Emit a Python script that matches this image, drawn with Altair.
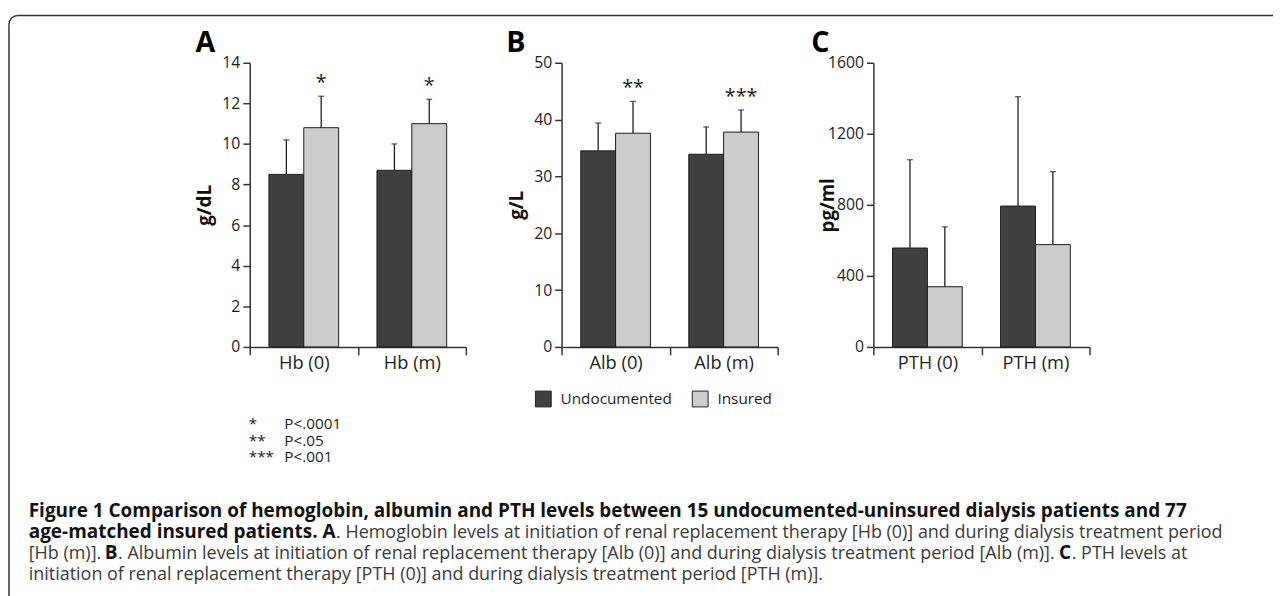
import math
import altair as alt
import pandas as pd

FONT = "Open Sans"
INK = "#1e1e1e"
AXIS = "#333333"

groups = ["Undocumented", "Insured"]
group_colors = ["#404040", "#cccccc"]

hb_cats = ["Hb (0)", "Hb (m)"]
hb_undoc = [8.5, 8.7]
hb_undoc_sd = [1.7, 1.3]
hb_ins = [10.8, 11.0]
hb_ins_sd = [1.55, 1.2]
hb_sig = ["*", "*"]
hb_ticks = [0, 2, 4, 6, 8, 10, 12, 14]

alb_cats = ["Alb (0)", "Alb (m)"]
alb_undoc = [34.5, 33.9]
alb_undoc_sd = [4.9, 4.8]
alb_ins = [37.6, 37.8]
alb_ins_sd = [5.6, 3.9]
alb_sig = ["**", "***"]
alb_ticks = [0, 10, 20, 30, 40, 50]

pth_cats = ["PTH (0)", "PTH (m)"]
pth_undoc = [557, 793]
pth_undoc_sd = [497, 616]
pth_ins = [339, 576]
pth_ins_sd = [337, 411]
pth_sig = ["", ""]
pth_ticks = [0, 400, 800, 1200, 1600]

foot_marks = ["*", "**", "***"]
foot_texts = ["P<.0001", "P<.05", "P<.001"]

cap_l1 = "Figure 1 Comparison of hemoglobin, albumin and PTH levels between 15 undocumented-uninsured dialysis patients and 77"
cap_l2b = "age-matched insured patients. A"
cap_l2r = ". Hemoglobin levels at initiation of renal replacement therapy [Hb (0)] and during dialysis treatment period"
cap_l3a = "[Hb (m)]."
cap_l3b = "B"
cap_l3c = ". Albumin levels at initiation of renal replacement therapy [Alb (0)] and during dialysis treatment period [Alb (m)]."
cap_l3d = "C"
cap_l3e = ". PTH levels at"
cap_l4 = "initiation of renal replacement therapy [PTH (0)] and during dialysis treatment period [PTH (m)]."

W = 219
H = 288
SPACING = 97
OX, OY = 253, 59  # page position of panel A plot origin (for annotations)


def panel_df(cats, u, usd, i, isd, sig):
    rows = []
    for k, c in enumerate(cats):
        rows.append(dict(category=c, group=groups[0], mean=u[k], upper=u[k] + usd[k], sig=""))
        rows.append(dict(category=c, group=groups[1], mean=i[k], upper=i[k] + isd[k], sig=sig[k]))
    return pd.DataFrame(rows)


def txt(s, x, y, size=15, weight="normal", color=INK, align="left", baseline="alphabetic"):
    return alt.Chart(pd.DataFrame({"t": [s]})).mark_text(
        font=FONT, fontSize=size, fontWeight=weight, color=color, align=align, baseline=baseline
    ).encode(x=alt.value(x - OX), y=alt.value(y - OY), text="t:N")


def panel(df, cats, ymax, yticks, ytitle, letter, letter_x, legend, extra=()):
    base = alt.Chart(df).encode(
        x=alt.X("category:N", sort=cats, title=None,
                scale=alt.Scale(paddingInner=0, paddingOuter=0),
                axis=alt.Axis(labelAngle=0, tickBand="extent", domainColor=AXIS, domainWidth=1.5,
                              tickColor=AXIS, tickWidth=1.5, tickSize=8, labelFont=FONT,
                              labelFontSize=18.5, labelColor=INK, labelPadding=-1)),
        xOffset=alt.XOffset("group:N", sort=groups,
                            scale=alt.Scale(paddingInner=0, paddingOuter=0.55)),
    )
    yenc = alt.Y("mean:Q", scale=alt.Scale(domain=[0, ymax], nice=False, zero=True),
                 axis=alt.Axis(values=yticks, format="d", title=ytitle, grid=False, domainColor=AXIS,
                               domainWidth=1.5, tickColor=AXIS, tickWidth=1.5, tickSize=7,
                               labelFont=FONT, labelFontSize=16, labelColor=INK, labelPadding=3,
                               titleFont=FONT, titleFontSize=19, titleFontWeight="bold",
                               titleColor="#111111", titleAngle=270, titleX=-36, titleY=H / 2,
                               titleAlign="center", titleBaseline="bottom"))
    bars = base.mark_bar(stroke="#1a1a1a", strokeWidth=1).encode(
        y=yenc,
        color=alt.Color("group:N", sort=groups,
                        scale=alt.Scale(domain=groups, range=group_colors), legend=legend),
    )
    err = base.mark_rule(color=INK, strokeWidth=1.3).encode(y="mean:Q", y2="upper:Q")
    capm = base.mark_tick(color=INK, thickness=1.3, size=6).encode(y="upper:Q")
    stars = base.transform_filter("datum.sig != ''").mark_text(
        font=FONT, fontSize=20, color=INK, baseline="alphabetic", dy=-7
    ).encode(y="upper:Q", text="sig:N")
    let = alt.Chart(pd.DataFrame({"t": [letter]})).mark_text(
        font=FONT, fontSize=29, fontWeight="bold", color="#000000", align="left", baseline="alphabetic"
    ).encode(x=alt.value(letter_x), y=alt.value(-11), text="t:N")
    return alt.layer(bars, err, capm, stars, let, *extra).properties(width=W, height=H)


# annotation layers carried by panel A (frame, footnotes, caption)
frame_df = pd.DataFrame({"a": [0]})
frame = [
    alt.Chart(frame_df).mark_rule(color=AXIS, strokeWidth=1.5).encode(
        x=alt.value(18 - OX), x2=alt.value(1290 - OX), y=alt.value(11 - OY)),
    alt.Chart(frame_df).mark_rule(color=AXIS, strokeWidth=1.5).encode(
        x=alt.value(9 - OX), y=alt.value(20 - OY), y2=alt.value(600 - OY)),
    alt.Chart(frame_df).mark_arc(radius=9.75, radius2=8.25, theta=1.5 * math.pi,
                                 theta2=2 * math.pi, color=AXIS).encode(
        x=alt.value(18 - OX), y=alt.value(20 - OY)),
]

foot = []
for k in range(3):
    foot.append(txt(foot_marks[k], 252, 430 + 17 * k, size=15.5))
    foot.append(txt(foot_texts[k], 288, 430 + 17 * k, size=15.5))

BOLD = "#111111"
REG = "#3a3a3a"
BS, RS = 19.2, 18.2
L1, L2, L3, L4 = 519, 540.5, 562, 583.5
caption = [
    txt(cap_l1, 29, L1, size=BS, weight="bold", color=BOLD),
    txt(cap_l2b, 29, L2, size=BS, weight="bold", color=BOLD),
    txt(cap_l2r, 340.5, L2, size=RS, color=REG),
    txt(cap_l3a, 29, L3, size=RS, color=REG),
    txt(cap_l3b, 106, L3, size=BS, weight="bold", color=BOLD),
    txt(cap_l3c, 119.5, L3, size=RS, color=REG),
    txt(cap_l3d, 1073, L3, size=BS, weight="bold", color=BOLD),
    txt(cap_l3e, 1086, L3, size=RS, color=REG),
    txt(cap_l4, 29, L4, size=RS, color=REG),
]

legendB = alt.Legend(orient="none", legendX=-27, legendY=332, direction="horizontal", title=None,
                     symbolType="square", symbolSize=256, symbolStrokeColor="#222222",
                     symbolStrokeWidth=1, labelFont=FONT, labelFontSize=15.5, labelColor=INK,
                     columnPadding=18, labelOffset=9, symbolOpacity=1)

pA = panel(panel_df(hb_cats, hb_undoc, hb_undoc_sd, hb_ins, hb_ins_sd, hb_sig),
           hb_cats, 14, hb_ticks, "g/dL", "A", -55, None, extra=frame + foot + caption)
pB = panel(panel_df(alb_cats, alb_undoc, alb_undoc_sd, alb_ins, alb_ins_sd, alb_sig),
           alb_cats, 50, alb_ticks, "g/L", "B", -56, legendB)
pC = panel(panel_df(pth_cats, pth_undoc, pth_undoc_sd, pth_ins, pth_ins_sd, pth_sig),
           pth_cats, 1600, pth_ticks, "pg/ml", "C", -63, None)

chart = alt.hconcat(pA, pB, pC, spacing=SPACING, bounds="flush").resolve_scale(
    color="independent"
).properties(
    padding={"left": 0, "top": 2.5, "right": 0, "bottom": 0},
    background="white",
).configure_view(stroke=None)

chart.save("out.html", embed_options={"renderer": "svg", "actions": False})
